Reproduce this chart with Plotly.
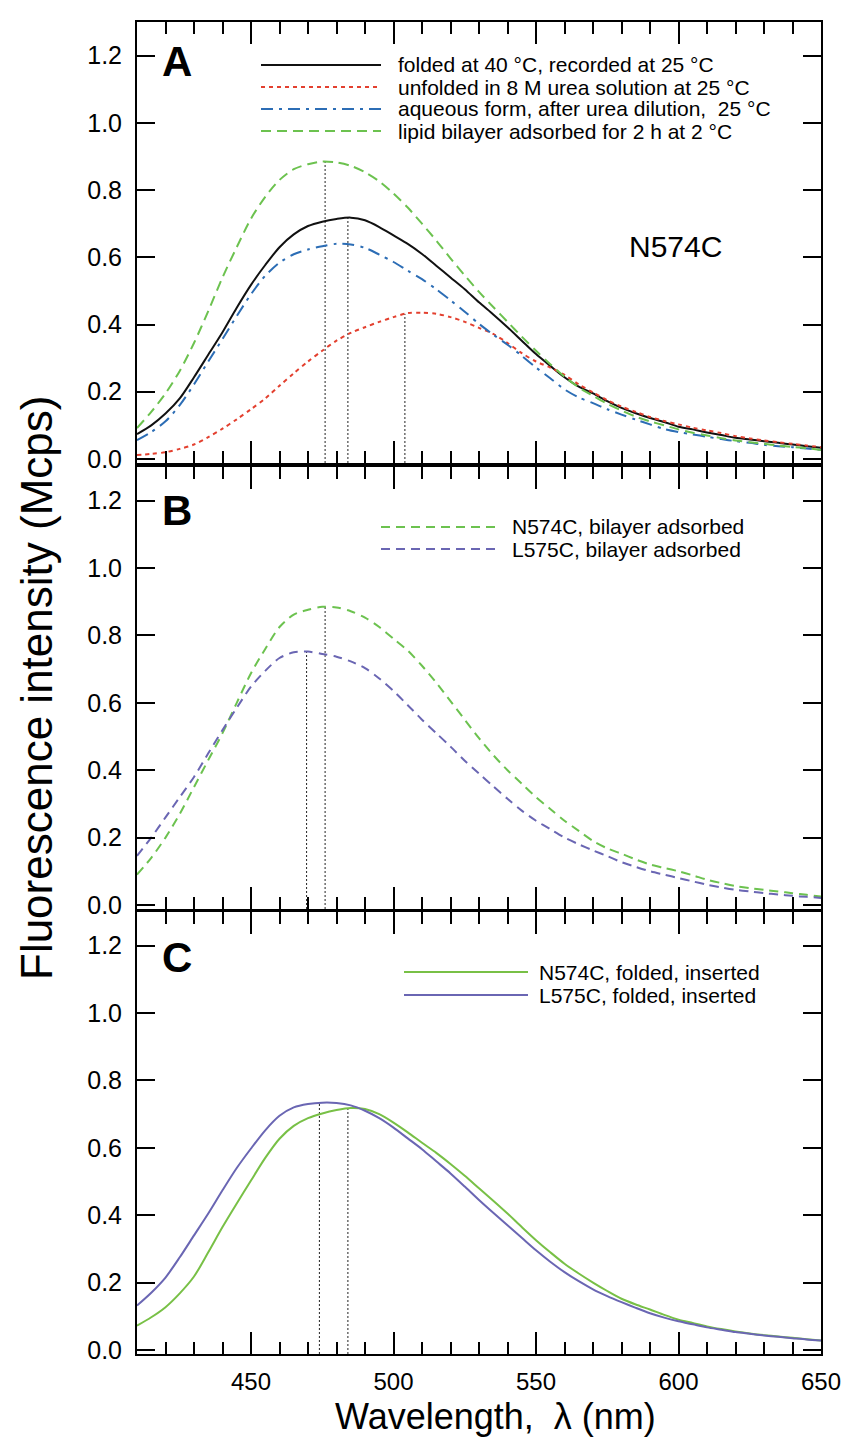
import numpy as np
import plotly.graph_objects as go

# wavelength grid (nm), read every 5 nm
wl = [410, 415, 420, 425, 430, 435, 440, 445, 450, 455, 460, 465, 470, 475, 480, 485,
      490, 495, 500, 505, 510, 515, 520, 525, 530, 535, 540, 545, 550, 555, 560, 565,
      570, 575, 580, 585, 590, 595, 600, 605, 610, 615, 620, 625, 630, 635, 640, 645, 650]

# panel A (N574C)
a_folded = [0.074, 0.100, 0.135, 0.180, 0.243, 0.310, 0.377, 0.450, 0.518, 0.577, 0.630, 0.668,
            0.693, 0.706, 0.714, 0.718, 0.710, 0.690, 0.665, 0.640, 0.610, 0.575, 0.540, 0.505,
            0.466, 0.430, 0.392, 0.352, 0.312, 0.277, 0.243, 0.215, 0.195, 0.172, 0.152, 0.136,
            0.122, 0.110, 0.096, 0.088, 0.079, 0.071, 0.063, 0.058, 0.053, 0.048, 0.043, 0.038, 0.033]
a_unfolded = [0.012, 0.015, 0.020, 0.030, 0.043, 0.065, 0.090, 0.118, 0.148, 0.180, 0.218, 0.255,
              0.290, 0.322, 0.352, 0.375, 0.392, 0.408, 0.422, 0.434, 0.435, 0.432, 0.422, 0.408,
              0.390, 0.372, 0.345, 0.315, 0.290, 0.272, 0.250, 0.222, 0.198, 0.175, 0.156, 0.140,
              0.125, 0.113, 0.103, 0.093, 0.085, 0.077, 0.068, 0.061, 0.055, 0.050, 0.045, 0.040, 0.035]
a_aqueous = [0.056, 0.080, 0.112, 0.160, 0.222, 0.290, 0.357, 0.425, 0.490, 0.545, 0.584, 0.609,
             0.623, 0.633, 0.640, 0.638, 0.628, 0.608, 0.586, 0.560, 0.535, 0.505, 0.472, 0.438,
             0.402, 0.370, 0.340, 0.307, 0.272, 0.240, 0.207, 0.183, 0.166, 0.148, 0.132, 0.117,
             0.103, 0.089, 0.080, 0.073, 0.066, 0.059, 0.053, 0.048, 0.042, 0.038, 0.035, 0.031, 0.027]
a_bilayer = [0.092, 0.140, 0.195, 0.262, 0.345, 0.440, 0.540, 0.630, 0.715, 0.780, 0.830, 0.862,
             0.877, 0.885, 0.882, 0.872, 0.853, 0.826, 0.790, 0.748, 0.700, 0.650, 0.597, 0.546,
             0.497, 0.452, 0.408, 0.364, 0.322, 0.282, 0.245, 0.213, 0.188, 0.164, 0.144, 0.126,
             0.112, 0.100, 0.088, 0.078, 0.070, 0.062, 0.055, 0.050, 0.045, 0.040, 0.036, 0.032, 0.027]

# panel B
b_n574c = [0.090, 0.140, 0.200, 0.270, 0.350, 0.430, 0.510, 0.600, 0.688, 0.760, 0.825, 0.862,
           0.876, 0.885, 0.883, 0.872, 0.853, 0.825, 0.790, 0.755, 0.710, 0.660, 0.605, 0.550,
           0.495, 0.445, 0.400, 0.360, 0.320, 0.285, 0.250, 0.220, 0.190, 0.168, 0.152, 0.135,
           0.120, 0.110, 0.100, 0.088, 0.075, 0.065, 0.056, 0.050, 0.045, 0.040, 0.035, 0.030, 0.025]
b_l575c = [0.146, 0.200, 0.260, 0.320, 0.380, 0.450, 0.519, 0.585, 0.648, 0.695, 0.733, 0.750,
           0.752, 0.745, 0.737, 0.723, 0.703, 0.672, 0.635, 0.593, 0.550, 0.510, 0.470, 0.428,
           0.390, 0.352, 0.315, 0.280, 0.250, 0.225, 0.200, 0.180, 0.162, 0.145, 0.127, 0.113,
           0.100, 0.090, 0.080, 0.070, 0.060, 0.052, 0.045, 0.040, 0.035, 0.031, 0.027, 0.024, 0.021]

# panel C
c_n574c = [0.072, 0.097, 0.127, 0.168, 0.218, 0.290, 0.365, 0.435, 0.503, 0.570, 0.627, 0.665,
           0.688, 0.702, 0.712, 0.718, 0.715, 0.700, 0.675, 0.646, 0.615, 0.585, 0.552, 0.517,
           0.480, 0.443, 0.405, 0.365, 0.326, 0.290, 0.256, 0.227, 0.200, 0.175, 0.152, 0.135,
           0.120, 0.104, 0.090, 0.080, 0.070, 0.062, 0.055, 0.049, 0.044, 0.040, 0.036, 0.032, 0.028]
c_l575c = [0.132, 0.170, 0.215, 0.275, 0.340, 0.405, 0.474, 0.540, 0.598, 0.652, 0.695, 0.720,
           0.730, 0.734, 0.733, 0.726, 0.710, 0.688, 0.660, 0.628, 0.596, 0.560, 0.524, 0.485,
           0.445, 0.407, 0.370, 0.333, 0.296, 0.262, 0.231, 0.204, 0.180, 0.160, 0.142, 0.125,
           0.109, 0.096, 0.085, 0.076, 0.067, 0.060, 0.053, 0.048, 0.043, 0.039, 0.035, 0.031, 0.028]

# emission maxima marked by the dotted drop lines (nm)
peaks_a = [476, 484, 504]
peaks_b = [469.5, 476]
peaks_c = [474, 484]

FONT = "Liberation Sans, Arial, sans-serif"
BLACK, RED, BLUE, GREEN, PURPLE, GREEN2 = "#111111", "#e3402f", "#2c6db5", "#6cc24f", "#6a66b3", "#78c046"
YMIN, YMAX = -0.012, 1.30
W, H = 841, 1440

panels = [
    ("", "y", [(a_folded, BLACK, "solid", "folded at 40 °C, recorded at 25 °C"),
               (a_unfolded, RED, "4px,4px", "unfolded in 8 M urea solution at 25 °C"),
               (a_aqueous, BLUE, "12px,6px,3px,6px", "aqueous form, after urea dilution,  25 °C"),
               (a_bilayer, GREEN, "10px,6px", "lipid bilayer adsorbed for 2 h at 2 °C")],
     [(peaks_a[0], a_bilayer), (peaks_a[1], a_folded), (peaks_a[2], a_unfolded)]),
    ("2", "y2", [(b_n574c, GREEN, "9px,6px", "N574C, bilayer adsorbed"),
                 (b_l575c, PURPLE, "9px,6px", "L575C, bilayer adsorbed")],
     [(peaks_b[0], b_l575c), (peaks_b[1], b_n574c)]),
    ("3", "y3", [(c_n574c, GREEN2, "solid", "N574C, folded, inserted"),
                 (c_l575c, PURPLE, "solid", "L575C, folded, inserted")],
     [(peaks_c[0], c_l575c), (peaks_c[1], c_n574c)]),
]

fig = go.Figure()
for sfx, yref, series, peaks in panels:
    for pk, s in peaks:
        fig.add_trace(go.Scatter(x=[pk, pk], y=[YMIN, float(np.interp(pk, wl, s))], mode="lines",
                                 line=dict(color="#222222", width=1, dash="2px,2px"),
                                 xaxis="x" + sfx, yaxis=yref, showlegend=False, hoverinfo="skip"))
    for s, col, dash, name in series:
        fig.add_trace(go.Scatter(x=wl, y=s, mode="lines", name=name,
                                 line=dict(color=col, width=2, dash=dash, shape="spline", smoothing=0.8),
                                 xaxis="x" + sfx, yaxis=yref, showlegend=False))

# pixel layout -> paper coords
def px(x):
    return x / W

def py(y):
    return 1 - y / H

xdom = [px(137), px(821)]
ydoms = [[py(463), py(22)], [py(909), py(467)], [py(1354), py(912)]]

axis_common = dict(showline=True, linewidth=2, linecolor="black", mirror="ticks",
                   ticks="inside", tickwidth=2, tickcolor="black", showgrid=False,
                   zeroline=False, automargin=False)
layout = dict(width=W, height=H, margin=dict(l=0, r=0, t=0, b=0),
              paper_bgcolor="white", plot_bgcolor="white", font=dict(family=FONT, color="black"))
for i, sfx in enumerate(["", "2", "3"]):
    layout["xaxis" + sfx] = dict(axis_common, domain=xdom, anchor="y" + sfx, range=[410, 650],
                                 tick0=400, dtick=50, ticklen=22,
                                 minor=dict(dtick=10, ticklen=12, tickwidth=2, ticks="inside", tickcolor="black"),
                                 showticklabels=(i == 2), tickfont=dict(size=24, family=FONT),
                                 ticklabelstandoff=5, ticklabeloverflow="allow")
    layout["yaxis" + sfx] = dict(axis_common, domain=ydoms[i], anchor="x" + sfx, range=[YMIN, YMAX],
                                 tick0=0, dtick=0.2, tickformat=".1f", ticklen=18,
                                 tickfont=dict(size=25, family=FONT), ticklabelstandoff=8)
fig.update_layout(**layout)

ann = []
shapes = []
# panel letters
for letter, y in [("A", 62), ("B", 511), ("C", 957)]:
    ann.append(dict(x=px(177), y=py(y), xref="paper", yref="paper", text="<b>" + letter + "</b>",
                    showarrow=False, font=dict(size=42, family=FONT), xanchor="center", yanchor="middle"))
ann.append(dict(x=px(675), y=py(246), xref="paper", yref="paper", text="N574C", showarrow=False,
                font=dict(size=30, family=FONT), xanchor="center", yanchor="middle"))

# legend rows: (sample x0, x1, text x, first row y, row step)
legend_pos = [(261, 381, 396, 65, 22), (381, 496, 510, 527, 22), (404, 528, 537, 972, 23)]
for (sfx, yref, series, peaks), (x0, x1, xt, y0, dy) in zip(panels, legend_pos):
    for k, (s, col, dash, name) in enumerate(series):
        yy = y0 + k * dy
        shapes.append(dict(type="line", xref="paper", yref="paper", x0=px(x0), x1=px(x1),
                           y0=py(yy), y1=py(yy), line=dict(color=col, width=2, dash=dash)))
        ann.append(dict(x=px(xt), y=py(yy), xref="paper", yref="paper", text=name, showarrow=False,
                        font=dict(size=21, family=FONT), xanchor="left", yanchor="middle"))

# axis titles
ann.append(dict(x=px(36), y=py(688), xref="paper", yref="paper", text="Fluorescence intensity (Mcps)",
                textangle=-90, showarrow=False, font=dict(size=44, family=FONT),
                xanchor="center", yanchor="middle"))
ann.append(dict(x=px(495), y=py(1416), xref="paper", yref="paper", text="Wavelength,  λ (nm)",
                showarrow=False, font=dict(size=36, family=FONT), xanchor="center", yanchor="middle"))

fig.update_layout(annotations=ann, shapes=shapes)
# drop the default page margin so the 841x1440 figure fills the window exactly
fig.write_html("out.html", config={"displayModeBar": False},
               post_script="document.body.style.margin='0';document.body.style.overflow='hidden';")
